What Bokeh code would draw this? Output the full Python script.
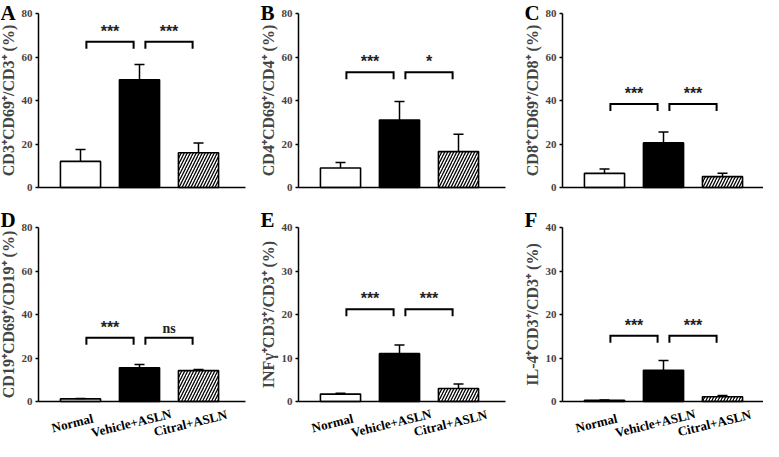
import math
from bokeh.plotting import figure
from bokeh.layouts import gridplot
from bokeh.models import Range1d, Whisker, ColumnDataSource, TeeHead, FixedTicker
from bokeh.core.properties import value
from bokeh.embed import file_html
from bokeh.resources import INLINE

groups = ["Normal", "Vehicle+ASLN", "Citral+ASLN"]
positions = [1, 2, 3]

# panel values (mean, upper error)
a_mean = [12.0, 49.5, 16.0]
a_err = [5.5, 7.0, 4.5]
b_mean = [9.0, 31.0, 16.5]
b_err = [2.5, 8.5, 8.0]
c_mean = [6.5, 20.5, 5.0]
c_err = [2.0, 5.0, 1.5]
d_mean = [1.2, 15.5, 14.2]
d_err = [0.2, 1.5, 0.5]
e_mean = [1.7, 11.0, 3.0]
e_err = [0.2, 2.0, 1.0]
f_mean = [0.25, 7.2, 1.1]
f_err = [0.1, 2.2, 0.3]

y_ticks_80 = [0, 20, 40, 60, 80]
y_ticks_40 = [0, 10, 20, 30, 40]

# significance brackets: pairs of groups, bracket height, labels
bracket_pairs = [(0, 1), (1, 2)]
a_bracket, a_sig = 67.0, ["***", "***"]
b_bracket, b_sig = 53.0, ["***", "*"]
c_bracket, c_sig = 38.4, ["***", "***"]
d_bracket, d_sig = 29.3, ["***", "ns"]
e_bracket, e_sig = 21.2, ["***", "***"]
f_bracket, f_sig = 15.1, ["***", "***"]

letters = ["A", "B", "C", "D", "E", "F"]
y_titles = [
    "CD3\u207aCD69\u207a/CD3\u207a (%)",
    "CD4\u207aCD69\u207a/CD4\u207a (%)",
    "CD8\u207aCD69\u207a/CD8\u207a (%)",
    "CD19\u207aCD69\u207a/CD19\u207a (%)",
    "INF\u03b3\u207aCD3\u207a/CD3\u207a (%)",
    "IL-4\u207aCD3\u207a/CD3\u207a (%)",
]

SERIF = "Liberation Serif"
SANS = "Liberation Sans"
PX_PER_X = 59.0          # pixels per category step
PLOT_PX = 174.0          # pixel height of the 0..ymax span
AXIS_PX = 38.0           # y axis distance from left canvas edge
BAR1_PX = 80.0           # first bar centre distance from left canvas edge
AXIS_LEN_PX = 207.0      # length of the x axis line
LABEL_ANGLE = 0.24
# wanted on-screen shift of the category labels from (bar centre, axis)
LABEL_DX, LABEL_DY = -13.0, 19.0
_c, _s = math.cos(LABEL_ANGLE), math.sin(LABEL_ANGLE)
LABEL_XOFF = LABEL_DX * _c + LABEL_DY * _s
LABEL_YOFF = -LABEL_DX * _s + LABEL_DY * _c


def panel(letter, title, means, errs, ymax, ticks, br_h, sigs,
          width, height, zero_px, show_labels):
    axis_x = positions[0] - (BAR1_PX - AXIS_PX) / PX_PER_X
    x0 = positions[0] - BAR1_PX / PX_PER_X
    x1 = x0 + width / PX_PER_X
    ypp = ymax / PLOT_PX
    y0 = -(height - zero_px) * ypp
    y1 = zero_px * ypp
    p = figure(width=width, height=height, title=None,
               x_range=Range1d(x0, x1), y_range=Range1d(y0, y1),
               output_backend="svg", toolbar_location=None, min_border=0)
    p.outline_line_color = None
    p.xgrid.grid_line_color = None
    p.ygrid.grid_line_color = None
    p.background_fill_color = "white"
    p.border_fill_color = "white"

    src = ColumnDataSource(dict(
        x=positions, mean=means,
        top=[m + e for m, e in zip(means, errs)],
        fill=["white", "black", "white"],
        hatch=[" ", " ", "/"],
    ))
    p.vbar(x="x", top="mean", width=0.68, source=src,
           fill_color="fill", line_color="black", line_width=1.6,
           hatch_pattern="hatch", hatch_color="black", hatch_scale=6,
           hatch_weight=1.3)
    w = Whisker(source=src, base="x", upper="top", lower="mean",
                line_color="black", line_width=1.5,
                upper_head=TeeHead(size=10, line_color="black", line_width=1.5),
                lower_head=None, level="glyph")
    p.add_layout(w)

    # brackets
    leg = ymax * 7.0 / PLOT_PX
    xs, ys, tx, ty, tf, ts = [], [], [], [], [], []
    for (i, j), s in zip(bracket_pairs, sigs):
        bx0 = positions[i] + 0.1
        bx1 = positions[j] - 0.1
        xs.append([bx0, bx0, bx1, bx1])
        ys.append([br_h - leg, br_h, br_h, br_h - leg])
        tx.append((bx0 + bx1) / 2)
        ty.append(br_h)
        tf.append(SERIF if s.isalpha() else SANS)
        ts.append("14px" if s.isalpha() else "16px")
    p.multi_line(xs=xs, ys=ys, line_color="black", line_width=2,
                 line_join="miter")
    tsrc = ColumnDataSource(dict(x=tx, y=ty, t=sigs, f=tf, s=ts))
    p.text(x="x", y="y", text="t", source=tsrc, text_align="center",
           text_baseline="bottom", y_offset=-2,
           text_font="f", text_font_style="bold",
           text_font_size="s", text_color="#222222")

    # y axis, drawn at a fixed place inside the canvas
    ya = p.yaxis[0]
    ya.fixed_location = axis_x
    ya.bounds = (0, ymax)
    ya.ticker = FixedTicker(ticks=ticks)
    ya.minor_tick_line_color = None
    ya.major_tick_out = 3
    ya.major_tick_in = 0
    ya.major_tick_line_width = 1.5
    ya.axis_line_width = 1.5
    ya.major_label_standoff = 3
    ya.major_label_text_font = SERIF
    ya.major_label_text_font_style = "bold"
    ya.major_label_text_font_size = "11px"
    ya.axis_label = title
    ya.axis_label_text_font = SERIF
    ya.axis_label_text_font_style = "bold"
    ya.axis_label_text_font_size = "16px"
    ya.axis_label_standoff = 2

    xa = p.xaxis[0]
    xa.fixed_location = 0
    xa.bounds = (axis_x, axis_x + AXIS_LEN_PX / PX_PER_X)
    xa.axis_line_width = 1.5
    xa.minor_tick_line_color = None
    xa.major_tick_line_color = None
    xa.major_tick_out = 0
    xa.ticker = FixedTicker(ticks=[])

    if show_labels:
        p.text(x=positions, y=[0] * len(positions), text=groups,
               angle=LABEL_ANGLE, x_offset=LABEL_XOFF, y_offset=LABEL_YOFF,
               text_align="center", text_baseline="middle",
               text_font=value(SERIF), text_font_style="bold",
               text_font_size="13px", text_color="black")

    p.text(x=[x0], y=[y1], text=[letter], text_align="left",
           text_baseline="top", text_font=value(SERIF),
           text_font_style="bold", text_font_size="21px",
           text_color="black")
    return p


widths = [260, 264, 239]
row_h = [207, 234]
row_zero = [187, 194]

specs = [
    (a_mean, a_err, 80, y_ticks_80, a_bracket, a_sig),
    (b_mean, b_err, 80, y_ticks_80, b_bracket, b_sig),
    (c_mean, c_err, 80, y_ticks_80, c_bracket, c_sig),
    (d_mean, d_err, 80, y_ticks_80, d_bracket, d_sig),
    (e_mean, e_err, 40, y_ticks_40, e_bracket, e_sig),
    (f_mean, f_err, 40, y_ticks_40, f_bracket, f_sig),
]

figs = []
for k, (m, e, ymax, ticks, bh, sig) in enumerate(specs):
    col, rw = k % 3, k // 3
    figs.append(panel(letters[k], y_titles[k], m, e, ymax, ticks, bh, sig,
                      widths[col], row_h[rw], row_zero[rw], rw == 1))

grid = gridplot([figs[0:3], figs[3:6]], toolbar_location=None)

open("out.html", "w").write(file_html(grid, INLINE))
